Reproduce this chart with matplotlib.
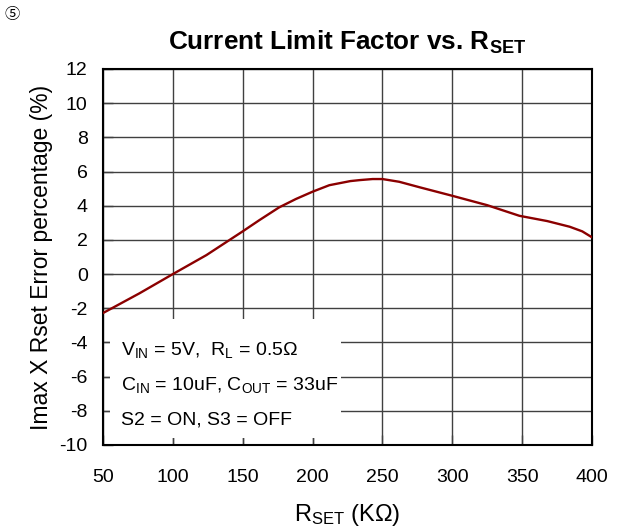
import numpy as np
import matplotlib.pyplot as plt
from matplotlib.patches import Rectangle

plt.rcParams['font.family'] = ['Liberation Sans', 'Noto Sans CJK JP', 'DejaVu Sans']
plt.rcParams['mathtext.fontset'] = 'custom'
plt.rcParams['mathtext.rm'] = 'Liberation Sans'
plt.rcParams['mathtext.it'] = 'Liberation Sans:italic'
plt.rcParams['mathtext.bf'] = 'Liberation Sans:bold'
plt.rcParams['axes.unicode_minus'] = False

# data
rset = [50, 76, 100, 124, 150, 162, 176, 188, 200, 212, 227, 234, 243, 250,
        262, 277, 300, 325, 348, 368, 384, 393, 400]
err = [-2.28, -1.13, 0.0, 1.11, 2.5, 3.16, 3.9, 4.39, 4.82, 5.2, 5.44, 5.5, 5.56, 5.56,
       5.4, 5.07, 4.58, 4.03, 3.41, 3.1, 2.77, 2.5, 2.15]
xticks = [50, 100, 150, 200, 250, 300, 350, 400]
yticks = list(range(-10, 13, 2))

fig = plt.figure(figsize=(6.21, 5.31), dpi=100)
ax = fig.add_axes([0.1659, 0.1620, 0.7874, 0.7081])

ax.plot(rset, err, color='#8B0000', lw=1.7, zorder=3)

ax.set_xlim(50, 400)
ax.set_ylim(-10, 12)
ax.set_xticks(xticks)
ax.set_yticks(yticks)
ax.grid(True, color='#404040', lw=1.0)
ax.set_axisbelow(True)
ax.tick_params(direction='in', length=7, width=1, color='#404040', labelsize=14)
ax.tick_params(axis='x', pad=17.5)
ax.tick_params(axis='y', pad=11)
for s in ax.spines.values():
    s.set_linewidth(1.5)
    s.set_color('black')

# white box behind the conditions text (covers grid, not the ticks)
ax.add_patch(Rectangle((55, -9.6), 165, 6.95, facecolor='white', edgecolor='none',
                       zorder=1.5))

ax.text(63, -4.45, r'$\mathregular{V_{IN}}$ = 5V,  $\mathregular{R_L}$ = 0.5Ω',
        fontsize=14, va='center', zorder=4)
ax.text(63, -6.5, r'$\mathregular{C_{IN}}$ = 10uF, $\mathregular{C_{OUT}}$ = 33uF',
        fontsize=14, va='center', zorder=4)
ax.text(63, -8.55, 'S2 = ON, S3 = OFF', fontsize=14, va='center', zorder=4)

ax.set_ylabel('Imax X Rset Error percentage (%)', fontsize=16.5, labelpad=5)
ax.set_xlabel(r'$\mathregular{R_{SET}}$ (KΩ)', fontsize=17, labelpad=11)
ax.set_title(r'Current Limit Factor vs. $\mathbf{R_{SET}}$', fontsize=18.8,
             fontweight='bold', pad=14)

fig.text(0.008, 0.972, '⑤', fontsize=11, va='center')

fig.savefig('out.png', dpi=100)
